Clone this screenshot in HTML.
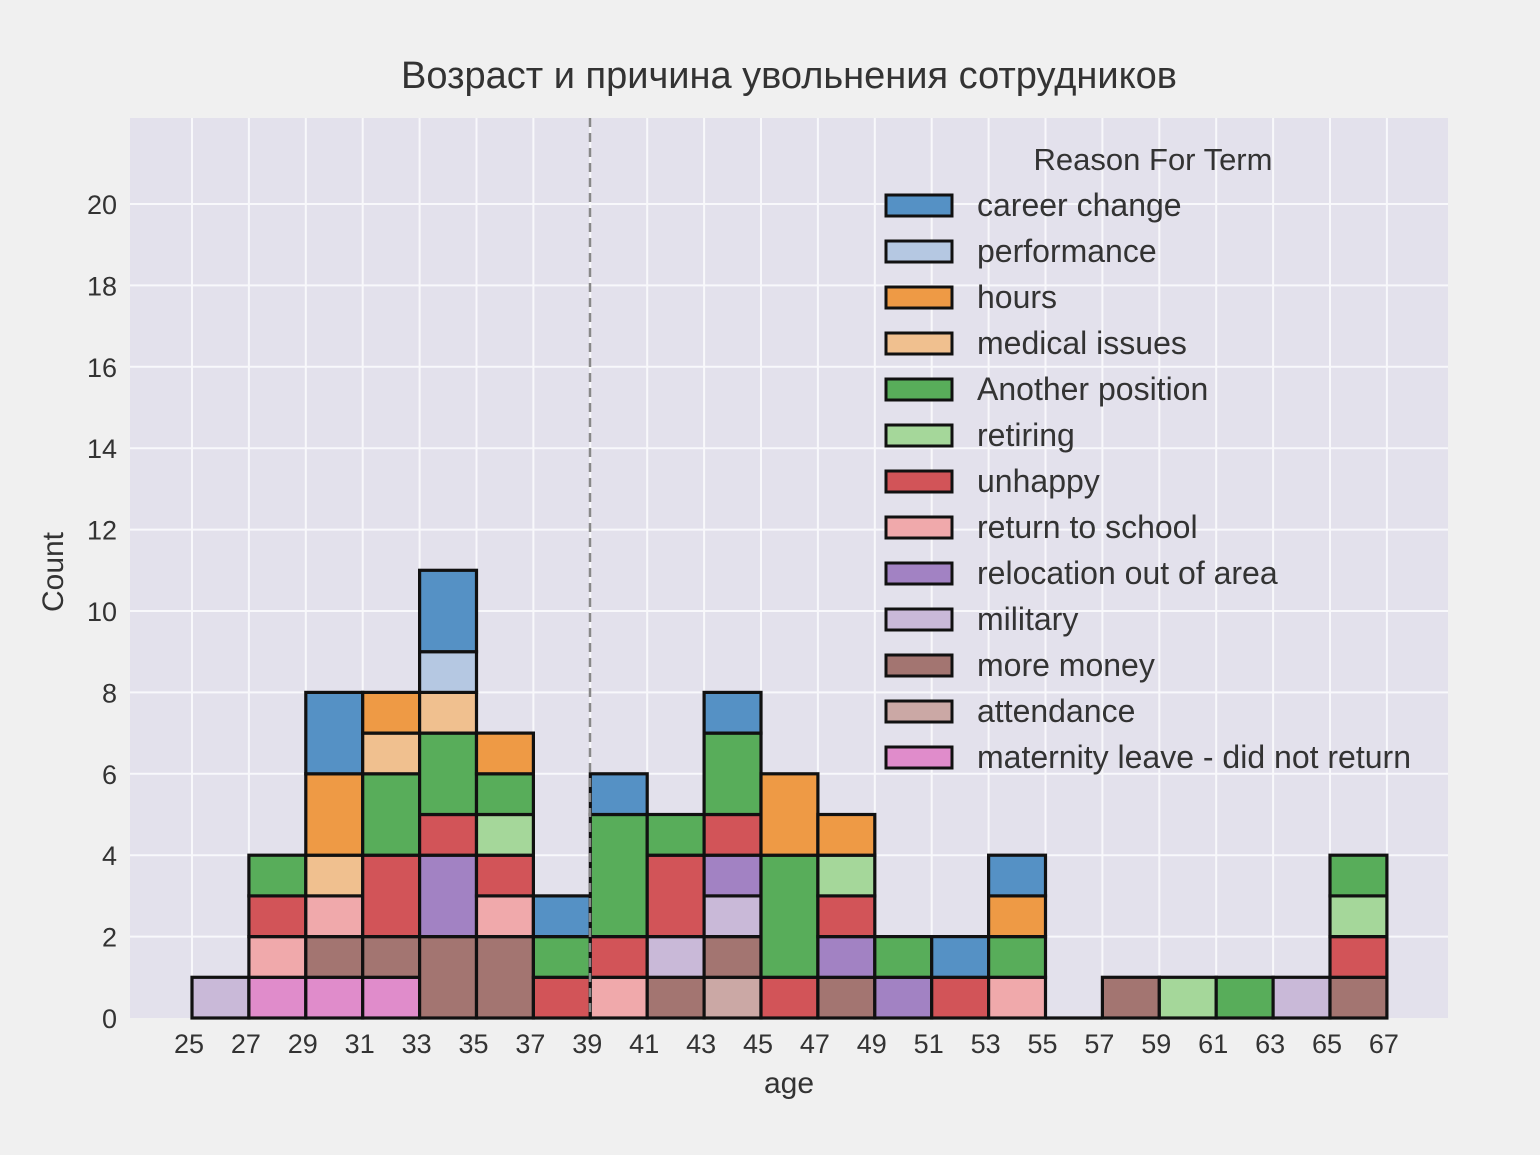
<!DOCTYPE html>
<html><head><meta charset="utf-8"><style>
html,body{margin:0;padding:0;background:#f0f0f0;}
svg{display:block;font-family:"Liberation Sans","DejaVu Sans",sans-serif;}
</style></head><body>
<svg id="s" width="1540" height="1155" viewBox="0 0 1540 1155" xmlns="http://www.w3.org/2000/svg">
<rect x="0" y="0" width="1540" height="1155" fill="#f0f0f0"/>
<rect x="130" y="118" width="1318" height="900" fill="#e3e1ec"/>
<g id="grid" stroke="#f8f8fb" stroke-width="2"></g>
<g id="bars" stroke="#111" stroke-width="3.2"></g>
<line x1="590" y1="118" x2="590" y2="1018" stroke="#888" stroke-width="2.5" stroke-dasharray="9,6"/>
<text x="789" y="88" font-size="38" fill="#333" text-anchor="middle">Возраст и причина увольнения сотрудников</text>
<text x="789" y="1093" font-size="30" fill="#333" text-anchor="middle">age</text>
<text transform="translate(63,572) rotate(-90)" font-size="30" fill="#333" text-anchor="middle">Count</text>
<g id="ticks" font-size="27" fill="#333"></g>
<g id="legend"></g>
</svg>
<script>
const NS="http://www.w3.org/2000/svg";
function el(p,t,a,txt){const e=document.createElementNS(NS,t);for(const k in a)e.setAttribute(k,a[k]);if(txt!==undefined)e.textContent=txt;p.appendChild(e);return e;}
const X=a=>192+(a-25)*28.45, Y=v=>1018-v*40.7;
const g=document.getElementById('grid'),tk=document.getElementById('ticks');
for(let v=0;v<=20;v+=2){if(v>0)el(g,'line',{x1:130,x2:1448,y1:Y(v),y2:Y(v)});el(tk,'text',{x:117,y:Y(v)+10,'text-anchor':'end'},v);}
for(let a=25;a<=67;a+=2){el(g,'line',{x1:X(a),x2:X(a),y1:118,y2:1018});el(tk,'text',{x:X(a)-3,y:1053,'text-anchor':'middle'},a);}
const C={cc:'#5591c5',pf:'#b5c8e2',hr:'#ee9a45',md:'#f0c08f',ap:'#58ad5a',rt:'#a5d79a',un:'#d25458',rs:'#f0a9ab',rl:'#a282c3',ml:'#c9b9d8',mm:'#a37571',at:'#cba8a5',mt:'#e08ccb'};
const D={25:[['ml',1]],27:[['mt',1],['rs',1],['un',1],['ap',1]],
29:[['mt',1],['mm',1],['rs',1],['md',1],['hr',2],['cc',2]],
31:[['mt',1],['mm',1],['un',2],['ap',2],['md',1],['hr',1]],
33:[['mm',2],['rl',2],['un',1],['ap',2],['md',1],['pf',1],['cc',2]],
35:[['mm',2],['rs',1],['un',1],['rt',1],['ap',1],['hr',1]],
37:[['un',1],['ap',1],['cc',1]],39:[['rs',1],['un',1],['ap',3],['cc',1]],
41:[['mm',1],['ml',1],['un',2],['ap',1]],
43:[['at',1],['mm',1],['ml',1],['rl',1],['un',1],['ap',2],['cc',1]],
45:[['un',1],['ap',3],['hr',2]],47:[['mm',1],['rl',1],['un',1],['rt',1],['hr',1]],
49:[['rl',1],['ap',1]],51:[['un',1],['cc',1]],53:[['rs',1],['ap',1],['hr',1],['cc',1]],
57:[['mm',1]],59:[['rt',1]],61:[['ap',1]],63:[['ml',1]],65:[['mm',1],['un',1],['rt',1],['ap',1]]};
const b=document.getElementById('bars');
for(const a in D){let v=0;for(const [k,n] of D[a]){el(b,'rect',{x:X(+a),y:Y(v+n),width:56.9,height:n*40.7,fill:C[k]});v+=n;}}
el(b,'line',{x1:X(55),x2:X(57),y1:1018,y2:1018});
const L=document.getElementById('legend');
el(L,'text',{x:1153,y:170,'font-size':31,fill:'#333','text-anchor':'middle'},'Reason For Term');
const items=[['cc','career change'],['pf','performance'],['hr','hours'],['md','medical issues'],['ap','Another position'],['rt','retiring'],['un','unhappy'],['rs','return to school'],['rl','relocation out of area'],['ml','military'],['mm','more money'],['at','attendance'],['mt','maternity leave - did not return']];
items.forEach(([k,t],i)=>{const y=205+i*46.0;el(L,'rect',{x:886,y:y-10,width:66,height:21,fill:C[k],stroke:'#111','stroke-width':3});el(L,'text',{x:977,y:y+11,'font-size':32,fill:'#333'},t);});
</script>
</body></html>
